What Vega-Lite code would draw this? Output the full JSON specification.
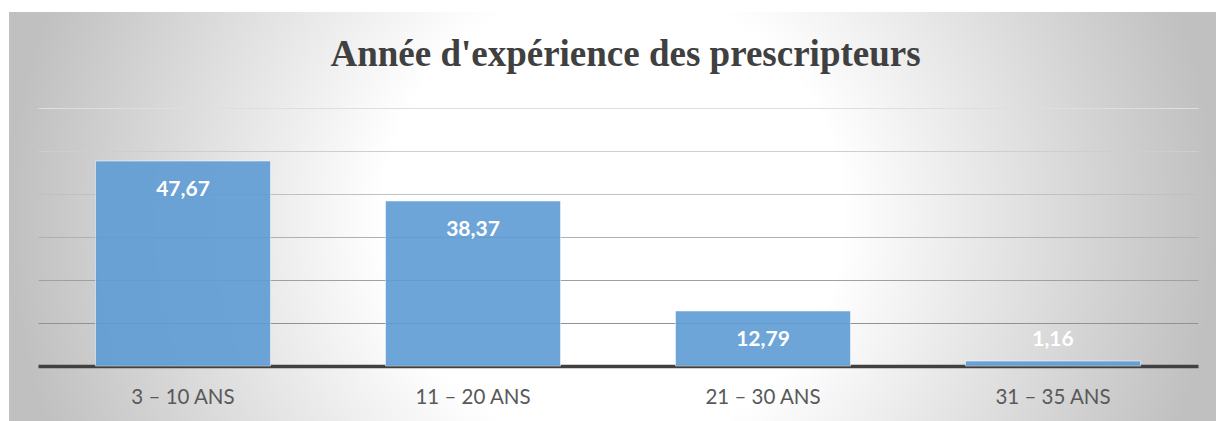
{
  "$schema": "https://vega.github.io/schema/vega-lite/v6.json",
  "width": 1207,
  "height": 409,
  "autosize": {"type": "none"},
  "padding": {"left": 9, "top": 12, "right": 0, "bottom": 0},
  "background": "#ffffff",
  "config": {
    "locale": {"number": {"decimal": ",", "thousands": " ", "grouping": [3], "currency": ["", " €"]}},
    "view": {
      "stroke": null,
      "fill": {
        "gradient": "radial",
        "x1": 0.5, "y1": 0.5, "r1": 0,
        "x2": 0.5, "y2": 0.5, "r2": 0.5,
        "stops": [
          {"offset": 0, "color": "#ffffff"},
          {"offset": 0.38, "color": "#ffffff"},
          {"offset": 1, "color": "#c0c0c0"}
        ]
      }
    }
  },
  "title": {
    "text": "Année d'expérience des prescripteurs",
    "font": "Liberation Serif",
    "fontSize": 37,
    "fontWeight": "bold",
    "color": "#404040",
    "anchor": "middle",
    "baseline": "alphabetic",
    "offset": -91,
    "dx": 13
  },
  "data": {
    "values": [
      {"categorie": "3 – 10 ANS", "pourcentage": 47.67},
      {"categorie": "11 – 20 ANS", "pourcentage": 38.37},
      {"categorie": "21 – 30 ANS", "pourcentage": 12.79},
      {"categorie": "31 – 35 ANS", "pourcentage": 1.16}
    ]
  },
  "encoding": {
    "x": {
      "field": "categorie",
      "type": "nominal",
      "sort": null,
      "scale": {"range": [29, 1189], "paddingInner": 0.3966, "paddingOuter": 0.1983},
      "axis": {
        "title": null,
        "orient": "bottom",
        "offset": -55,
        "ticks": false,
        "labelAngle": 0,
        "labelFont": "Lato",
        "labelFontSize": 20.5,
        "labelColor": "#595959",
        "labelBaseline": "alphabetic",
        "labelPadding": 37,
        "domainColor": "#404040",
        "domainWidth": 3.5,
        "grid": false
      }
    },
    "y": {
      "field": "pourcentage",
      "type": "quantitative",
      "scale": {"domain": [-12.79, 82.33], "nice": false, "zero": false},
      "axis": {
        "title": null,
        "labels": false,
        "ticks": false,
        "domain": false,
        "values": [10, 20, 30, 40, 50, 60],
        "grid": true,
        "gridWidth": 1,
        "gridColor": {
          "condition": [
            {"test": "datum.value >= 60", "value": "#dedede"},
            {"test": "datum.value >= 50", "value": "#cecece"},
            {"test": "datum.value >= 40", "value": "#c0c0c0"},
            {"test": "datum.value >= 30", "value": "#b0b0b0"},
            {"test": "datum.value >= 20", "value": "#a0a0a0"}
          ],
          "value": "#929292"
        }
      }
    }
  },
  "layer": [
    {
      "mark": {"type": "bar", "fill": "#5e9bd4", "fillOpacity": 0.9, "stroke": "#ffffff", "strokeOpacity": 0.5, "strokeWidth": 1}
    },
    {
      "transform": [{"filter": "datum.pourcentage > 5"}],
      "mark": {"type": "text", "font": "Lato", "fontSize": 21, "fontWeight": "bold", "color": "#ffffff", "baseline": "alphabetic", "dy": 35},
      "encoding": {"text": {"field": "pourcentage", "type": "quantitative", "format": ".2f"}}
    },
    {
      "transform": [{"filter": "datum.pourcentage <= 5"}],
      "mark": {"type": "text", "font": "Lato", "fontSize": 21, "fontWeight": "bold", "color": "#ffffff", "baseline": "alphabetic", "dy": -15},
      "encoding": {"text": {"field": "pourcentage", "type": "quantitative", "format": ".2f"}}
    }
  ]
}
